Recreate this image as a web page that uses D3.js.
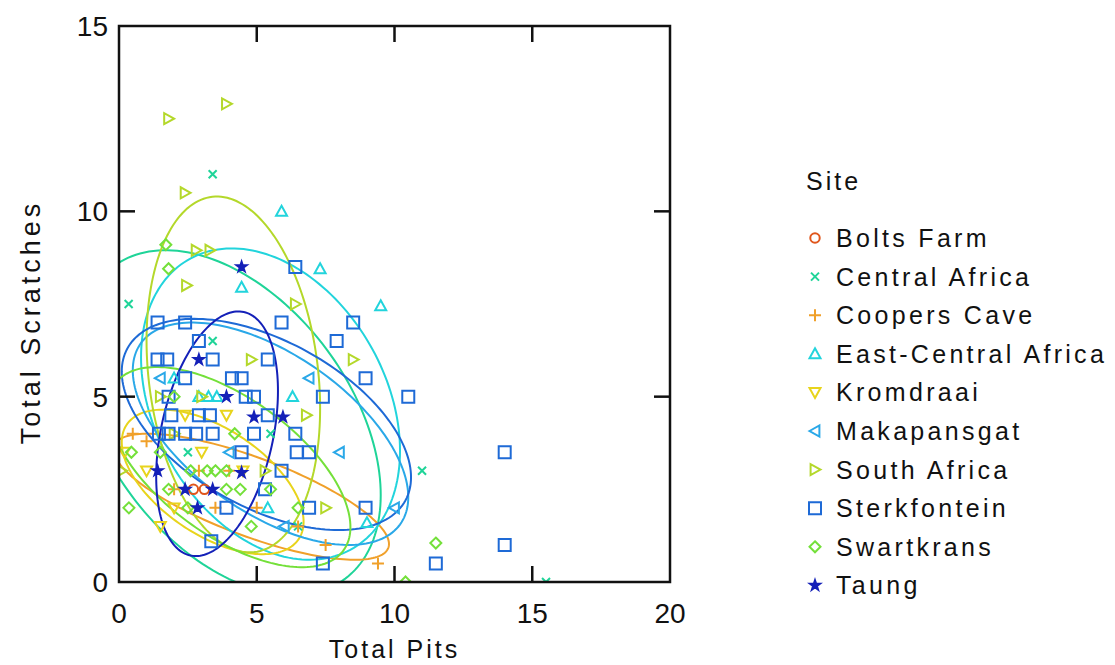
<!DOCTYPE html>
<html>
<head>
<meta charset="utf-8">
<script src="https://cdn.jsdelivr.net/npm/d3@7"></script>
<style>
  html, body { margin: 0; padding: 0; background: #fff; }
  svg text { font-family: "Liberation Sans", Arial, sans-serif; fill: #111; }
</style>
</head>
<body>
<svg id="chart" width="1115" height="665"></svg>
<script>
// Site names in legend order and their colours
const sites = ["Bolts Farm", "Central Africa", "Coopers Cave", "East-Central Africa",
  "Kromdraai", "Makapansgat", "South Africa", "Sterkfontein", "Swartkrans", "Taung"];
const siteColors = ["#e0561c", "#1fd498", "#f0a02a", "#22d4dc", "#e8d41c",
  "#2aa8e8", "#b4d82a", "#1e6ad6", "#74e03a", "#1420b8"];

const xTicks = [0, 5, 10, 15, 20];
const yTicks = [0, 5, 10, 15];

// [Total Pits, Total Scratches] per specimen
const boltsFarm = [[2.7, 2.5], [3.1, 2.5]];
const centralAfrica = [[0.35, 7.5], [3.4, 11], [3.4, 6.5], [5.5, 4], [11, 3], [15.5, 0],
  [2.5, 3.5], [6.5, 1.5]];
const coopersCave = [[2.9, 3.0], [1.0, 3.8], [4.0, 3.0], [5.0, 2.0], [6.5, 1.5], [9.4, 0.5],
  [3.5, 2.0], [7.5, 1.0], [2.0, 2.5], [0.5, 4.0]];
const eastCentralAfrica = [[5.9, 10], [7.3, 8.45], [9.5, 7.45], [4.45, 7.95], [2.9, 5],
  [3.25, 5], [3.55, 5], [5.4, 2], [9, 1.6], [2.0, 5.5], [6.3, 5.0]];
const kromdraai = [[2.4, 4.5], [3.9, 4.5], [0.2, 3.5], [1.0, 3.0], [2.0, 2.0], [3.0, 3.5],
  [4.5, 3.0], [1.5, 1.5]];
const makapansgat = [[6.9, 5.5], [10, 2], [1.5, 5.5], [4.0, 3.5], [8.0, 3.5], [6.0, 1.5]];
const southAfrica = [[1.8, 12.5], [3.9, 12.9], [2.4, 10.5], [2.45, 8.0], [2.8, 8.95],
  [3.3, 8.95], [4.8, 6.0], [6.4, 7.5], [6.8, 4.5], [8.5, 6.0], [7.5, 2.0], [0.1, 3.0],
  [1.5, 5.0], [3.0, 5.0], [2.0, 4.0], [5.3, 3.0]];
const sterkfontein = [[1.4, 7], [2.4, 7], [5.9, 7], [8.5, 7], [6.4, 8.5], [7.9, 6.5],
  [2.9, 6.5], [1.4, 6], [1.75, 6], [3.4, 6], [5.4, 6], [2.4, 5.5], [4.1, 5.5], [4.45, 5.5],
  [8.95, 5.5], [1.8, 5], [4.6, 5], [4.9, 5], [7.4, 5], [10.5, 5], [1.9, 4.5], [2.9, 4.5],
  [3.3, 4.5], [5.4, 4.5], [1.45, 4], [1.8, 4], [2.4, 4], [2.8, 4], [3.4, 4], [4.9, 4],
  [6.4, 4], [4.45, 3.5], [6.45, 3.5], [6.9, 3.5], [5.9, 3], [5.3, 2.5], [3.9, 2],
  [6.9, 2], [8.95, 2], [3.35, 1.1], [7.4, 0.5], [11.5, 0.5], [14, 3.5], [14, 1]];
const swartkrans = [[0.45, 3.5], [0.36, 2.0], [1.8, 2.5], [2.5, 2.0], [2.6, 3.0], [3.2, 3.0],
  [3.5, 3.0], [3.9, 3.0], [3.9, 2.5], [4.4, 2.5], [1.8, 8.45], [1.7, 9.1], [10.4, 0],
  [11.5, 1.05], [2.0, 5.0], [4.2, 4.0], [5.5, 2.5], [6.5, 2.0], [1.5, 3.5], [4.8, 1.5]];
const taung = [[4.45, 8.5], [2.9, 6], [3.9, 5], [4.9, 4.45], [5.95, 4.45], [1.4, 3],
  [2.4, 2.5], [3.4, 2.5], [2.85, 2], [4.45, 2.95]];

const sitePoints = [boltsFarm, centralAfrica, coopersCave, eastCentralAfrica, kromdraai,
  makapansgat, southAfrica, sterkfontein, swartkrans, taung];

// Density ellipses per site: centre (cx, cy), half-extents (sx, sy), correlation rho
const ellipseSite = ["Central Africa", "Coopers Cave", "East-Central Africa", "Kromdraai",
  "Makapansgat", "South Africa", "Sterkfontein", "Swartkrans", "Taung"];
const ellipseCx = [4.0, 4.8, 5.5, 3.4, 5.5, 4.15, 5.35, 4.0, 3.56];
const ellipseCy = [4.3, 2.3, 4.8, 2.7, 4.0, 5.6, 4.25, 3.1, 4.0];
const ellipseSx = [5.5, 5.0, 4.7, 3.3, 5.0, 3.15, 5.25, 4.4, 2.21];
const ellipseSy = [4.65, 1.7, 4.2, 1.95, 3.0, 4.8, 2.85, 2.7, 3.3];
const ellipseRho = [-0.42, -0.75, -0.3, -0.55, -0.57, -0.19, -0.5, -0.6, 0.35];

const svg = d3.select("#chart");
const plotLeft = 119, plotRight = 670, plotTop = 26, plotBottom = 582;

const x = d3.scaleLinear().domain([0, 20]).range([plotLeft, plotRight]);
const y = d3.scaleLinear().domain([0, 15]).range([plotBottom, plotTop]);
const color = d3.scaleOrdinal().domain(sites).range(siteColors);

// clip region for plot contents
svg.append("defs").append("clipPath").attr("id", "plotClip")
  .append("rect").attr("x", plotLeft).attr("y", plotTop)
  .attr("width", plotRight - plotLeft).attr("height", plotBottom - plotTop);

const plot = svg.append("g").attr("clip-path", "url(#plotClip)");

// ellipses
const line = d3.line().x(d => x(d[0])).y(d => y(d[1])).curve(d3.curveLinearClosed);
ellipseSite.forEach((s, i) => {
  const r = ellipseRho[i];
  const pts = d3.range(0, 180).map(k => {
    const t = k / 180 * 2 * Math.PI;
    return [ellipseCx[i] + ellipseSx[i] * Math.cos(t),
            ellipseCy[i] + ellipseSy[i] * (r * Math.cos(t) + Math.sqrt(1 - r * r) * Math.sin(t))];
  });
  plot.append("path").attr("d", line(pts))
    .attr("fill", "none").attr("stroke", color(s)).attr("stroke-width", 2);
});

// marker shapes, drawn around (0,0)
function markerPath(site) {
  const p = d3.path();
  const r = 5.5;
  switch (site) {
    case "Bolts Farm": return d3.symbol(d3.symbolCircle, 70)();
    case "Central Africa":
      p.moveTo(-4, -4); p.lineTo(4, 4); p.moveTo(4, -4); p.lineTo(-4, 4); return p.toString();
    case "Coopers Cave":
      p.moveTo(-6, 0); p.lineTo(6, 0); p.moveTo(0, -6); p.lineTo(0, 6); return p.toString();
    case "East-Central Africa":
      p.moveTo(0, -r); p.lineTo(r, r * 0.8); p.lineTo(-r, r * 0.8); p.closePath(); return p.toString();
    case "Kromdraai":
      p.moveTo(0, r); p.lineTo(r, -r * 0.8); p.lineTo(-r, -r * 0.8); p.closePath(); return p.toString();
    case "Makapansgat":
      p.moveTo(-r, 0); p.lineTo(r * 0.8, -r); p.lineTo(r * 0.8, r); p.closePath(); return p.toString();
    case "South Africa":
      p.moveTo(r, 0); p.lineTo(-r * 0.8, -r); p.lineTo(-r * 0.8, r); p.closePath(); return p.toString();
    case "Sterkfontein":
      p.rect(-6, -6, 12, 12); return p.toString();
    case "Swartkrans":
      p.moveTo(0, -r); p.lineTo(r, 0); p.lineTo(0, r); p.lineTo(-r, 0); p.closePath(); return p.toString();
    case "Taung": return d3.symbol(d3.symbolStar, 40)();
  }
}

function drawMarker(g, site, px, py) {
  const filled = site === "Taung";
  g.append("path").attr("d", markerPath(site))
    .attr("transform", `translate(${px},${py})`)
    .attr("fill", filled ? color(site) : "none")
    .attr("stroke", color(site)).attr("stroke-width", filled ? 1.5 : 2);
}

sites.forEach((s, i) => {
  sitePoints[i].forEach(d => drawMarker(plot, s, x(d[0]), y(d[1])));
});

// frame
svg.append("rect").attr("x", plotLeft).attr("y", plotTop)
  .attr("width", plotRight - plotLeft).attr("height", plotBottom - plotTop)
  .attr("fill", "none").attr("stroke", "#111").attr("stroke-width", 2.5);

// inward ticks on all four sides
const tickLen = 16;
const axes = svg.append("g").attr("stroke", "#111").attr("stroke-width", 2.5);
xTicks.slice(1, -1).forEach(t => {
  axes.append("line").attr("x1", x(t)).attr("x2", x(t)).attr("y1", plotBottom).attr("y2", plotBottom - tickLen);
  axes.append("line").attr("x1", x(t)).attr("x2", x(t)).attr("y1", plotTop).attr("y2", plotTop + tickLen);
});
yTicks.slice(1, -1).forEach(t => {
  axes.append("line").attr("x1", plotLeft).attr("x2", plotLeft + tickLen).attr("y1", y(t)).attr("y2", y(t));
  axes.append("line").attr("x1", plotRight).attr("x2", plotRight - tickLen).attr("y1", y(t)).attr("y2", y(t));
});

// tick labels
const tickFont = 28;
xTicks.forEach(t => {
  svg.append("text").attr("x", x(t)).attr("y", 623)
    .attr("text-anchor", "middle").attr("font-size", tickFont).text(t);
});
yTicks.forEach(t => {
  svg.append("text").attr("x", 108).attr("y", y(t) + 10)
    .attr("text-anchor", "end").attr("font-size", tickFont).text(t);
});

// axis titles
svg.append("text").attr("x", (plotLeft + plotRight) / 2).attr("y", 658)
  .attr("text-anchor", "middle").attr("font-size", 25).attr("letter-spacing", 3).text("Total Pits");
svg.append("text").attr("transform", `translate(40,${(plotTop + plotBottom) / 2 + 18}) rotate(-90)`)
  .attr("text-anchor", "middle").attr("font-size", 27).attr("letter-spacing", 4).text("Total Scratches");

// legend
const legend = svg.append("g");
legend.append("text").attr("x", 806).attr("y", 190).attr("font-size", 25).attr("letter-spacing", 3).text("Site");
sites.forEach((s, i) => {
  const cy = 238 + i * 38.6;
  drawMarker(legend, s, 815, cy);
  legend.append("text").attr("x", 836).attr("y", cy + 9)
    .attr("font-size", 25).attr("letter-spacing", 3.3).text(s);
});
</script>
</body>
</html>
